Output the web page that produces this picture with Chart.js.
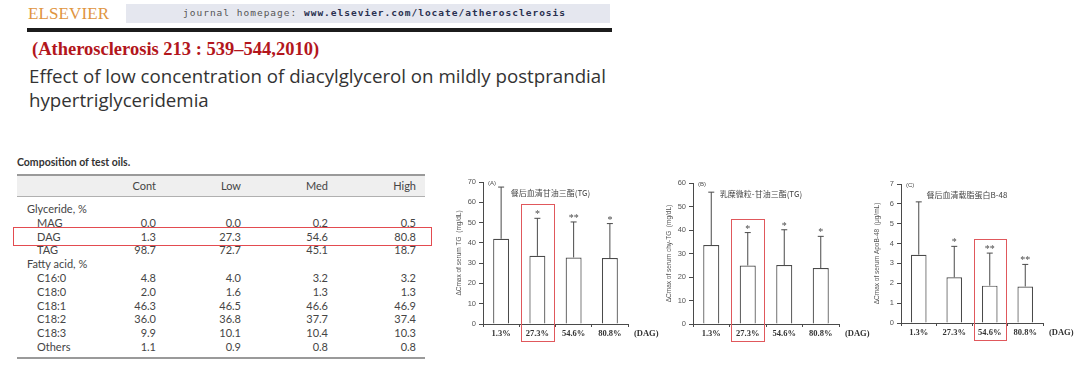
<!DOCTYPE html>
<html>
<head>
<meta charset="utf-8">
<script src="https://cdn.jsdelivr.net/npm/chart.js@4"></script>
<style>
  html, body { margin: 0; padding: 0; background: #fff; }
  body { width: 1080px; height: 365px; position: relative; overflow: hidden; font-family: Lato, sans-serif; }
  .abs { position: absolute; white-space: nowrap; }
  canvas { position: absolute; }
  #dagbox { position: absolute; left: 13px; top: 227px; width: 417px; height: 17px; border: 1.5px solid #e34b50; }
</style>
</head>
<body>
<div class="abs" style="left:28px;top:4px;font:17px 'Liberation Serif',serif;color:#e0953f;letter-spacing:0.1px;">ELSEVIER</div>
<div class="abs" style="left:126px;top:4px;width:484px;height:19px;background:#e5e7ef;"></div>
<div class="abs" style="left:183px;top:6px;font:9.5px 'DejaVu Sans Mono',monospace;color:#555;letter-spacing:1px;line-height:14px;">journal homepage: <b style="color:#2a3050">www.elsevier.com/locate/atherosclerosis</b></div>
<div class="abs" style="left:27px;top:28px;width:585px;height:4px;background:#1c1c1c;"></div>
<div class="abs" style="left:32px;top:39px;font:bold 18.5px 'Liberation Serif',serif;color:#b3161c;">(Atherosclerosis 213 : 539–544,2010)</div>
<div class="abs" style="left:29px;top:64px;font:18.7px 'Open Sans',sans-serif;color:#333;line-height:24px;">Effect of low concentration of diacylglycerol on mildly postprandial<br>hypertriglyceridemia</div>

<div id="table"></div>
<div id="dagbox"></div>

<canvas id="chartA"></canvas>
<canvas id="chartB"></canvas>
<canvas id="chartC"></canvas>

<script>
// ---- table data ----
const oilCols = ['Cont', 'Low', 'Med', 'High'];
const rowNames = ['Glyceride, %', 'MAG', 'DAG', 'TAG', 'Fatty acid, %', 'C16:0', 'C18:0', 'C18:1', 'C18:2', 'C18:3', 'Others'];
const magVals = [0.0, 0.0, 0.2, 0.5];
const dagVals = [1.3, 27.3, 54.6, 80.8];
const tagVals = [98.7, 72.7, 45.1, 18.7];
const c160Vals = [4.8, 4.0, 3.2, 3.2];
const c180Vals = [2.0, 1.6, 1.3, 1.3];
const c181Vals = [46.3, 46.5, 46.6, 46.9];
const c182Vals = [36.0, 36.8, 37.7, 37.4];
const c183Vals = [9.9, 10.1, 10.4, 10.3];
const otherVals = [1.1, 0.9, 0.8, 0.8];

// ---- chart data ----
const dagLabels = ['1.3%', '27.3%', '54.6%', '80.8%'];
const tgMean = [42.0, 33.6, 32.8, 32.5];
const tgSD = [25.5, 18.5, 17.5, 17.0];
const tgStars = ['', '*', '**', '*'];
const chyMean = [33.6, 24.9, 25.1, 23.8];
const chySD = [22.5, 14.0, 15.0, 13.5];
const chyStars = ['', '*', '*', '*'];
const apoMean = [3.44, 2.30, 1.88, 1.84];
const apoSD = [2.66, 1.56, 1.64, 1.11];
const apoStars = ['', '*', '**', '**'];

// build table
const tbl = document.getElementById('table');
function put(html, css) {
  const d = document.createElement('div');
  d.className = 'abs';
  d.style.cssText = css;
  d.innerHTML = html;
  tbl.appendChild(d);
}
const txt = 'color:#454545;font:11px Lato,sans-serif;line-height:14px;';
const colRight = [156, 241, 328, 416];
put('Composition of test oils.', 'left:17px;top:156px;font:bold 10.5px Lato,sans-serif;color:#333;');
put('', 'left:17px;top:174px;width:408px;height:2px;background:#9a9a9a;');
put('', 'left:17px;top:176px;width:408px;height:20px;background:#efefef;');
put('', 'left:17px;top:196px;width:408px;height:1px;background:#b0b0b0;');
put('', 'left:17px;top:357px;width:408px;height:2px;background:#9a9a9a;');
oilCols.forEach((c, j) => put(c, txt + 'top:179px;right:' + (1080 - colRight[j]) + 'px;'));
const rowVals = [null, magVals, dagVals, tagVals, null, c160Vals, c180Vals, c181Vals, c182Vals, c183Vals, otherVals];
rowNames.forEach((name, i) => {
  const top = 202 + i * 13.8;
  const indent = rowVals[i] ? 37 : 27;
  put(name, txt + 'top:' + top + 'px;left:' + indent + 'px;');
  if (rowVals[i]) rowVals[i].forEach((v, j) => put(v.toFixed(1), txt + 'top:' + top + 'px;right:' + (1080 - colRight[j]) + 'px;'));
});

// ---- charts ----
const ink = '#4a4a4a';

function decorPlugin(mean, sd, stars, tag, cnTitle, highlight) {
  return {
    id: 'decor',
    afterDatasetsDraw(chart) {
      const { ctx, chartArea: a, scales: { y } } = chart;
      const meta = chart.getDatasetMeta(0);
      const catW = a.width / meta.data.length;
      ctx.save();
      ctx.strokeStyle = ink;
      ctx.fillStyle = ink;
      ctx.lineWidth = 1;
      ctx.textAlign = 'center';
      ctx.font = '10px "Liberation Serif"';
      meta.data.forEach((bar, i) => {
        const top = y.getPixelForValue(mean[i] + sd[i]);
        ctx.beginPath();
        ctx.moveTo(bar.x, bar.y);
        ctx.lineTo(bar.x, top);
        ctx.moveTo(bar.x - 3, top);
        ctx.lineTo(bar.x + 3, top);
        ctx.stroke();
        if (stars[i]) ctx.fillText(stars[i], bar.x, top - 1);
      });
      // panel tag + chinese title
      ctx.font = '6px Arial';
      ctx.textAlign = 'left';
      ctx.fillText(tag, a.left + 5, a.top + 3);
      ctx.font = '8px "Noto Sans CJK SC"';
      ctx.textAlign = 'center';
      ctx.fillStyle = '#444';
      ctx.fillText(cnTitle, (a.left + a.right) / 2 - 5, a.top + 14);
      // (DAG) after the axis
      ctx.font = 'bold 8.5px "Liberation Serif"';
      ctx.textAlign = 'left';
      ctx.fillStyle = '#333';
      ctx.fillText('(DAG)', a.right + 6, a.bottom + 12);
      // red highlight box
      const hb = meta.data[highlight];
      const hTop = y.getPixelForValue(mean[highlight] + sd[highlight]) - 14;
      ctx.strokeStyle = '#e0585c';
      ctx.strokeRect(Math.round(hb.x - catW * 0.45) + 0.5, Math.round(hTop) + 0.5, Math.round(catW * 0.9), Math.round(a.bottom + 17 - hTop));
      ctx.restore();
    }
  };
}

function makeChart(id, box, mean, sd, stars, yMax, yStep, yTitle, tag, cnTitle, highlight) {
  const axisW = 32, topPad = 10, rightPad = 36, xAxisH = 22;
  const cv = document.getElementById(id);
  cv.width = axisW + box.plotW + rightPad;
  cv.height = topPad + box.plotH + xAxisH;
  cv.style.left = (box.axisX - axisW) + 'px';
  cv.style.top = (box.top - topPad) + 'px';
  new Chart(cv, {
    type: 'bar',
    data: {
      labels: dagLabels,
      datasets: [{
        data: mean,
        backgroundColor: '#fff',
        borderColor: ink,
        borderWidth: 1.2,
        barPercentage: 0.44,
        categoryPercentage: 1
      }]
    },
    options: {
      responsive: false,
      animation: false,
      events: [],
      layout: { padding: { top: topPad, right: rightPad, left: 0, bottom: 0 } },
      plugins: { legend: { display: false }, tooltip: { enabled: false } },
      scales: {
        x: {
          afterFit: s => { s.height = xAxisH; },
          border: { color: ink, width: 1 },
          grid: { drawOnChartArea: false, tickLength: 3, color: ink, offset: true },
          ticks: { color: '#333', padding: 2, font: { family: 'Liberation Serif', weight: 'bold', size: 8.5 }, maxRotation: 0 }
        },
        y: {
          min: 0, max: yMax,
          afterFit: s => { s.width = axisW; },
          border: { color: ink, width: 1 },
          grid: { drawOnChartArea: false, tickLength: 4, color: ink },
          ticks: { stepSize: yStep, color: '#555', padding: 3, font: { family: 'Arial', size: 7.5 } },
          title: { display: true, text: yTitle, color: '#555', font: { family: 'Arial', size: 6.5 }, padding: { top: 4, bottom: 0 } }
        }
      }
    },
    plugins: [decorPlugin(mean, sd, stars, tag, cnTitle, highlight)]
  });
}

makeChart('chartA', { axisX: 483, top: 182, plotW: 145, plotH: 142 }, tgMean, tgSD, tgStars, 70, 10,
  'ΔCmax of serum TG  (mg/dL)', '(A)', '餐后血清甘油三酯(TG)', 1);
makeChart('chartB', { axisX: 693, top: 183, plotW: 146, plotH: 141 }, chyMean, chySD, chyStars, 60, 10,
  'ΔCmax of serum chy-TG  (mg/dL)', '(B)', '乳糜微粒-甘油三酯(TG)', 1);
makeChart('chartC', { axisX: 901, top: 184, plotW: 142, plotH: 139 }, apoMean, apoSD, apoStars, 7, 1,
  'ΔCmax of serum ApoB-48  (μg/mL)', '(C)', '餐后血清载脂蛋白B-48', 2);
</script>
</body>
</html>
